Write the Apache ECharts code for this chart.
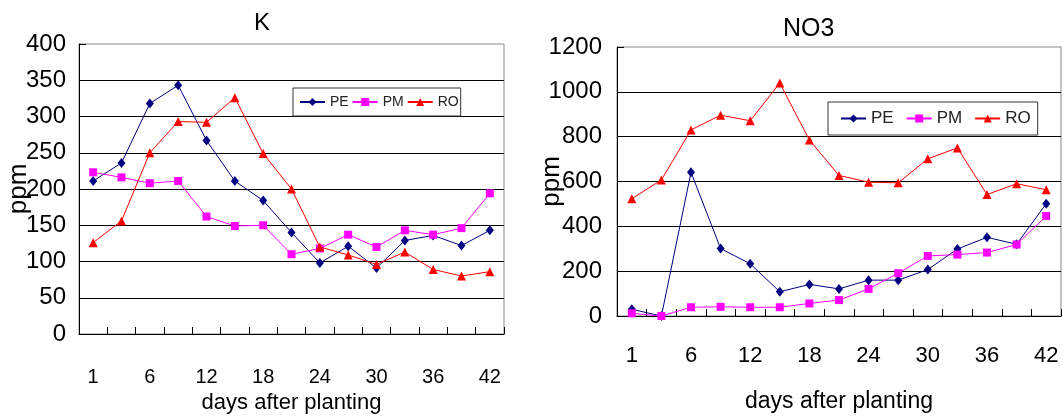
<!DOCTYPE html>
<html>
<head>
<meta charset="UTF-8">
<title>K / NO3 - days after planting</title>
<script src="https://cdn.jsdelivr.net/npm/echarts@6/dist/echarts.min.js"></script>
<style>
	html, body { margin: 0; padding: 0; background: #fff; }
	#main { width: 1063px; height: 418px; }
</style>
</head>
<body>
<div id="main"></div>

<script>
	// days after planting (every other one is labelled)
	var days = ['1', '3', '6', '9', '12', '15', '18', '21', '24', '27', '30', '33', '36', '39', '42'];
	var seriesNames = ['PE', 'PM', 'RO'];

	// K, ppm
	var kPE = [211, 236, 318, 343, 267, 211, 184, 140, 98, 121, 91, 129, 136, 122, 143];
	var kPM = [223, 216, 208, 211, 162, 149, 150, 110, 118, 137, 120, 143, 137, 146, 194];
	var kRO = [126, 156, 250, 293, 292, 326, 249, 200, 120, 109, 96, 113, 89, 80, 86];

	// NO3, ppm
	var nPE = [30, 0, 641, 301, 233, 108, 141, 121, 160, 160, 207, 299, 351, 320, 501];
	var nPM = [12, 0, 39, 41, 39, 39, 56, 71, 121, 191, 268, 274, 283, 319, 446];
	var nRO = [523, 607, 830, 896, 871, 1039, 785, 627, 597, 594, 701, 750, 542, 590, 563];

	var font = "'Liberation Sans', Arial, sans-serif";

	var colors = ['#000080', '#ff00ff', '#ff0000'];
	var symbols = ['diamond', 'rect', 'triangle'];
	var symbolSizes = [[8, 10], 8, 9];

	function xAxisFor(idx, labelSize, labelMargin, nameSize, nameGap) {
		return {
			type: 'category',
			gridIndex: idx,
			data: days,
			boundaryGap: true,
			name: 'days after planting',
			nameLocation: 'middle',
			nameGap: nameGap,
			nameMoveOverlap: false,
			nameTextStyle: { fontFamily: font, fontSize: nameSize, color: '#000' },
			axisLine: { lineStyle: { color: '#000', width: 1 } },
			axisTick: { show: true, inside: true, length: 7, interval: 0, lineStyle: { color: '#000' } },
			axisLabel: { interval: 1, margin: labelMargin, fontFamily: font, fontSize: labelSize, color: '#000' },
			splitLine: { show: false }
		};
	}

	function yAxisFor(idx, max, step, labelSize, labelMargin, nameGap) {
		return {
			type: 'value',
			gridIndex: idx,
			min: 0,
			max: max,
			interval: step,
			name: 'ppm',
			nameLocation: 'middle',
			nameRotate: 90,
			nameGap: nameGap,
			nameMoveOverlap: false,
			nameTextStyle: { fontFamily: font, fontSize: 26, color: '#000' },
			axisLine: { show: true, lineStyle: { color: '#000', width: 1 } },
			axisTick: { show: true, inside: true, length: 7, lineStyle: { color: '#000' } },
			axisLabel: {
				margin: labelMargin, fontFamily: font, fontSize: labelSize, color: '#000',
				formatter: function (v) { return String(v); }
			},
			splitLine: { show: true, showMaxLine: false, lineStyle: { color: '#000', width: 1 } }
		};
	}

	function legendFor(left, top, padding, gap, size) {
		return {
			left: left,
			top: top,
			orient: 'horizontal',
			data: seriesNames,
			padding: padding,
			itemGap: gap,
			itemWidth: 25,
			itemHeight: 10,
			borderColor: '#333',
			borderWidth: 1,
			backgroundColor: '#fff',
			textStyle: { fontFamily: font, fontSize: size, color: '#222' }
		};
	}

	function lineSeries(i, idx, values) {
		return {
			name: seriesNames[i],
			type: 'line',
			xAxisIndex: idx,
			yAxisIndex: idx,
			data: values,
			symbol: symbols[i],
			symbolSize: symbolSizes[i],
			showAllSymbol: true,
			lineStyle: { color: colors[i], width: 1 },
			itemStyle: { color: colors[i] },
			z: 3 + i,
			animation: false
		};
	}

	var myChart = echarts.init(document.getElementById('main'));

	var option = {
		backgroundColor: '#fff',
		animation: false,
		title: [
			{ text: 'K', left: 249, top: 6, textStyle: { fontFamily: font, fontSize: 24, fontWeight: 'normal', color: '#000' } },
			{ text: 'NO3', left: 778, top: 12, textStyle: { fontFamily: font, fontSize: 25, fontWeight: 'normal', color: '#000' } }
		],
		legend: [
			legendFor(293, 88, [7, 2, 7, 6], 3, 14),
			legendFor(828, 102, [8, 7, 8, 12], 12, 17)
		],
		grid: [
			{ left: 79, top: 44, width: 425, height: 290, outerBoundsMode: 'none', containLabel: false, show: true, borderColor: '#888', borderWidth: 1, backgroundColor: 'transparent' },
			{ left: 617, top: 47, width: 444, height: 269, outerBoundsMode: 'none', containLabel: false, show: true, borderColor: '#888', borderWidth: 1, backgroundColor: 'transparent' }
		],
		xAxis: [
			xAxisFor(0, 20, 33, 22, 58),
			xAxisFor(1, 22, 29, 23, 74)
		],
		yAxis: [
			yAxisFor(0, 400, 50, 24, 13, 47),
			yAxisFor(1, 1200, 200, 24, 15, 52)
		],
		series: [
			lineSeries(0, 0, kPE),
			lineSeries(1, 0, kPM),
			lineSeries(2, 0, kRO),
			lineSeries(0, 1, nPE),
			lineSeries(1, 1, nPM),
			lineSeries(2, 1, nRO)
		]
	};

	myChart.setOption(option);
</script>
</body>
</html>
